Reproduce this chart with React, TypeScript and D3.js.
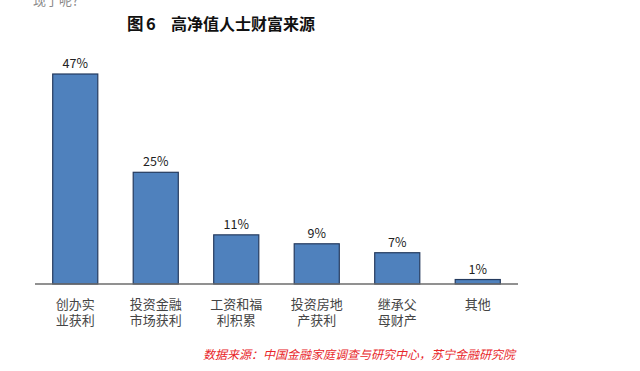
import React, { useEffect, useRef } from 'react';
import * as d3 from 'd3';

// 数据
const categories = ['创办实业获利', '投资金融市场获利', '工资和福利积累', '投资房地产获利', '继承父母财产', '其他'];
const labelLines = [
    ['创办实', '业获利'],
    ['投资金融', '市场获利'],
    ['工资和福', '利积累'],
    ['投资房地', '产获利'],
    ['继承父', '母财产'],
    ['其他'],
];
const values = [47, 25, 11, 9, 7, 1];

const App = () => {
    const svgRef = useRef(null);

    useEffect(() => {
        const svg = d3.select(svgRef.current);
        svg.selectAll('*').remove();

        const font = '"Noto Sans CJK SC", "Noto Sans", sans-serif';

        // 윗부분 잘린 본문 텍스트
        svg.append('text')
            .attr('x', 33)
            .attr('y', 5)
            .attr('fill', '#888')
            .attr('font-family', font)
            .attr('font-size', 13)
            .text('现了呢？');

        // 제목
        svg.append('text')
            .attr('x', 127)
            .attr('y', 30)
            .attr('fill', '#111')
            .attr('font-family', font)
            .attr('font-weight', 'bold')
            .attr('font-size', 16.5)
            .text('图');
        svg.append('text')
            .attr('x', 146)
            .attr('y', 30)
            .attr('fill', '#111')
            .attr('font-family', font)
            .attr('font-weight', 'bold')
            .attr('font-size', 16.5)
            .text('6');
        svg.append('text')
            .attr('x', 171)
            .attr('y', 30)
            .attr('fill', '#111')
            .attr('font-family', font)
            .attr('font-weight', 'bold')
            .attr('font-size', 16)
            .text('高净值人士财富来源');

        const x = d3.scaleBand()
            .domain(categories)
            .range([35, 518])
            .paddingInner(0.44)
            .paddingOuter(0.22);

        const y = d3.scaleLinear()
            .domain([0, 47])
            .range([284, 74]);

        // 막대
        svg.append('g')
            .selectAll('rect')
            .data(values)
            .join('rect')
            .attr('x', (d, i) => x(categories[i]))
            .attr('y', d => y(d))
            .attr('width', x.bandwidth())
            .attr('height', d => y(0) - y(d))
            .attr('fill', '#4F81BD')
            .attr('stroke', '#243a5e')
            .attr('stroke-width', 1.2);

        // 값 라벨
        svg.append('g')
            .selectAll('text')
            .data(values)
            .join('text')
            .attr('x', (d, i) => x(categories[i]) + x.bandwidth() / 2)
            .attr('y', d => y(d) - 6)
            .attr('text-anchor', 'middle')
            .attr('font-family', font)
            .attr('font-size', 12.5)
            .attr('fill', '#222')
            .text(d => `${d}%`);

        // x축 선
        svg.append('line')
            .attr('x1', 35)
            .attr('x2', 518)
            .attr('y1', y(0))
            .attr('y2', y(0))
            .attr('stroke', '#6d6d6d')
            .attr('stroke-width', 1.5);

        // 카테고리 라벨
        const lab = svg.append('g')
            .selectAll('text')
            .data(labelLines)
            .join('text')
            .attr('x', (d, i) => x(categories[i]) + x.bandwidth() / 2)
            .attr('y', 309)
            .attr('text-anchor', 'middle')
            .attr('font-family', font)
            .attr('font-size', 13)
            .attr('fill', '#444');
        lab.selectAll('tspan')
            .data(d => d)
            .join('tspan')
            .attr('x', function () { return (this.parentNode as any).getAttribute('x'); })
            .attr('dy', (d, i) => (i === 0 ? 0 : 16))
            .text(d => d);

        // 출처
        svg.append('text')
            .attr('x', 203)
            .attr('y', 359)
            .attr('font-family', font)
            .attr('font-size', 12)
            .attr('font-style', 'italic')
            .attr('fill', '#e8262a')
            .text('数据来源：中国金融家庭调查与研究中心，苏宁金融研究院');
    }, []);

    return (
        <svg ref={svgRef} width={640} height={371}
            style={{ position: 'absolute', left: 0, top: 0, background: '#fff' }} />
    );
};

export default App;
